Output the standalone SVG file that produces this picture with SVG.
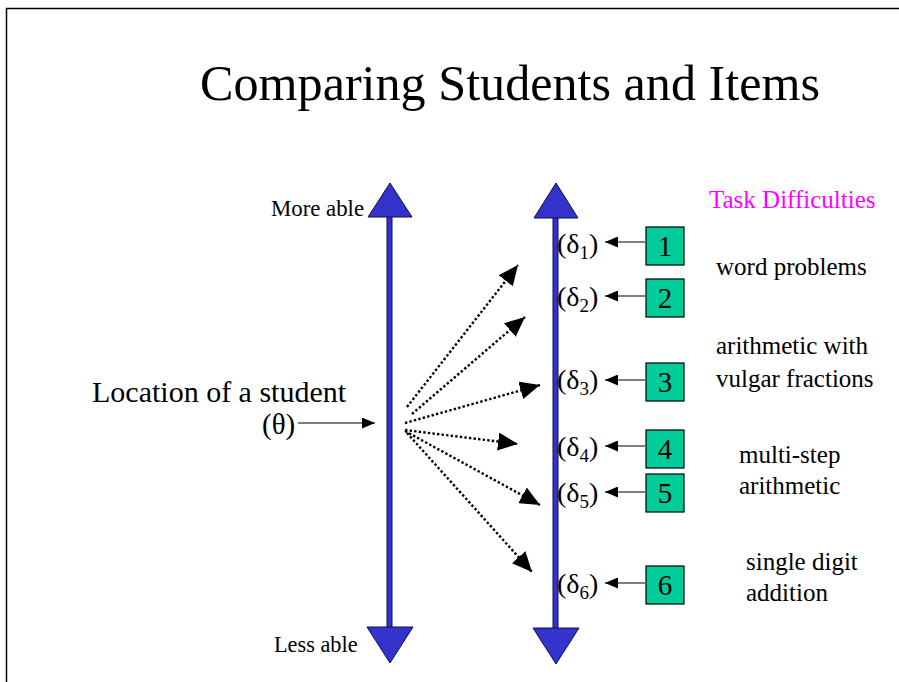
<svg xmlns="http://www.w3.org/2000/svg" width="899" height="682" viewBox="0 0 899 682">
<defs>
<style>
.t{font-family:"Liberation Serif","Times New Roman",Times,serif;fill:#000}
.axis{fill:#3333cc;stroke:#10104a;stroke-width:1}
.box{fill:#00cc99;stroke:#000;stroke-width:1.2}
.dot{fill:none;stroke:#000;stroke-width:2.4;stroke-dasharray:2.4 2.2}
.ln{fill:none;stroke:#000;stroke-width:1.2}
.sub{font-size:19px}
</style>
<marker id="ah" viewBox="0 0 10 10" refX="10" refY="5" markerWidth="13" markerHeight="11" markerUnits="userSpaceOnUse" orient="auto" preserveAspectRatio="none"><path d="M0,0 L10,5 L0,10 z" fill="#000"/></marker>
<marker id="big" viewBox="0 0 10 10" refX="10" refY="5" markerWidth="20" markerHeight="18" markerUnits="userSpaceOnUse" orient="auto" preserveAspectRatio="none"><path d="M0,0 L10,5 L0,10 z" fill="#000"/></marker>
</defs>
<rect x="0" y="0" width="899" height="682" fill="#fff"/>
<path d="M6.5,682 V8.5 H899" fill="none" stroke="#000" stroke-width="1.5"/>
<text class="t" x="200" y="100" font-size="50" textLength="620" lengthAdjust="spacingAndGlyphs">Comparing Students and Items</text>

<g id="ability-axis">
<rect class="axis" x="387" y="216" width="5" height="412"/>
<path class="axis" d="M390,183 L412,217 L368,217 Z"/>
<path class="axis" d="M390,663 L413,627 L367,627 Z"/>
<text class="t" x="271" y="216" font-size="22.8">More able</text>
<text class="t" x="274" y="652" font-size="22.3">Less able</text>
</g>

<g id="difficulty-axis">
<rect class="axis" x="553" y="217" width="5" height="412"/>
<path class="axis" d="M556,183 L578,218 L534,218 Z"/>
<path class="axis" d="M556,664 L579,628 L533,628 Z"/>
</g>

<g id="student">
<text class="t" x="92" y="402" font-size="30">Location of a student</text>
<text class="t" x="262" y="434" font-size="29">(θ)</text>
</g>

<g id="task-title"><text class="t" x="709" y="208" font-size="25" style="fill:#ff00ff">Task Difficulties</text></g>

<g id="item1"><rect class="box" x="646" y="227" width="38" height="38"/><text class="t" x="665" y="256" font-size="29" text-anchor="middle">1</text><text class="t" x="557" y="253" font-size="28">(δ<tspan class="sub" dy="6">1</tspan><tspan dy="-6">)</tspan></text></g>
<g id="item2"><rect class="box" x="646" y="279" width="38" height="38"/><text class="t" x="665" y="308" font-size="29" text-anchor="middle">2</text><text class="t" x="557" y="306" font-size="28">(δ<tspan class="sub" dy="6">2</tspan><tspan dy="-6">)</tspan></text></g>
<g id="item3"><rect class="box" x="646" y="363" width="38" height="38"/><text class="t" x="665" y="392" font-size="29" text-anchor="middle">3</text><text class="t" x="557" y="389" font-size="28">(δ<tspan class="sub" dy="6">3</tspan><tspan dy="-6">)</tspan></text></g>
<g id="item4"><rect class="box" x="646" y="430" width="38" height="38"/><text class="t" x="665" y="459" font-size="29" text-anchor="middle">4</text><text class="t" x="557" y="456" font-size="28">(δ<tspan class="sub" dy="6">4</tspan><tspan dy="-6">)</tspan></text></g>
<g id="item5"><rect class="box" x="646" y="474" width="38" height="38"/><text class="t" x="665" y="503" font-size="29" text-anchor="middle">5</text><text class="t" x="557" y="502" font-size="28">(δ<tspan class="sub" dy="6">5</tspan><tspan dy="-6">)</tspan></text></g>
<g id="item6"><rect class="box" x="646" y="566" width="38" height="38"/><text class="t" x="665" y="595" font-size="29" text-anchor="middle">6</text><text class="t" x="557" y="593" font-size="28">(δ<tspan class="sub" dy="6">6</tspan><tspan dy="-6">)</tspan></text></g>

<g id="descriptions">
<text class="t" x="716" y="275" font-size="25">word problems</text>
<text class="t" x="716" y="354" font-size="25">arithmetic with</text>
<text class="t" x="716" y="387" font-size="25">vulgar fractions</text>
<text class="t" x="739" y="463" font-size="25">multi-step</text>
<text class="t" x="739" y="494" font-size="25">arithmetic</text>
<text class="t" x="746" y="570" font-size="25">single digit</text>
<text class="t" x="746" y="601" font-size="25">addition</text>
</g>

<g id="connectors">
<line class="ln" x1="298" y1="423" x2="375" y2="423" marker-end="url(#ah)"/>
<line class="ln" x1="645" y1="242" x2="605" y2="242" marker-end="url(#ah)"/>
<line class="ln" x1="645" y1="296" x2="605" y2="296" marker-end="url(#ah)"/>
<line class="ln" x1="645" y1="380" x2="605" y2="380" marker-end="url(#ah)"/>
<line class="ln" x1="645" y1="446" x2="605" y2="446" marker-end="url(#ah)"/>
<line class="ln" x1="645" y1="492" x2="605" y2="492" marker-end="url(#ah)"/>
<line class="ln" x1="645" y1="583" x2="605" y2="583" marker-end="url(#ah)"/>
<line class="dot" x1="407" y1="407" x2="518" y2="265" marker-end="url(#big)"/>
<line class="dot" x1="412" y1="414" x2="525" y2="317" marker-end="url(#big)"/>
<line class="dot" x1="405" y1="423" x2="540" y2="385" marker-end="url(#big)"/>
<line class="dot" x1="405" y1="430" x2="518" y2="444" marker-end="url(#big)"/>
<line class="dot" x1="405" y1="431" x2="540" y2="505" marker-end="url(#big)"/>
<line class="dot" x1="407" y1="433" x2="532" y2="572" marker-end="url(#big)"/>
</g>
</svg>
